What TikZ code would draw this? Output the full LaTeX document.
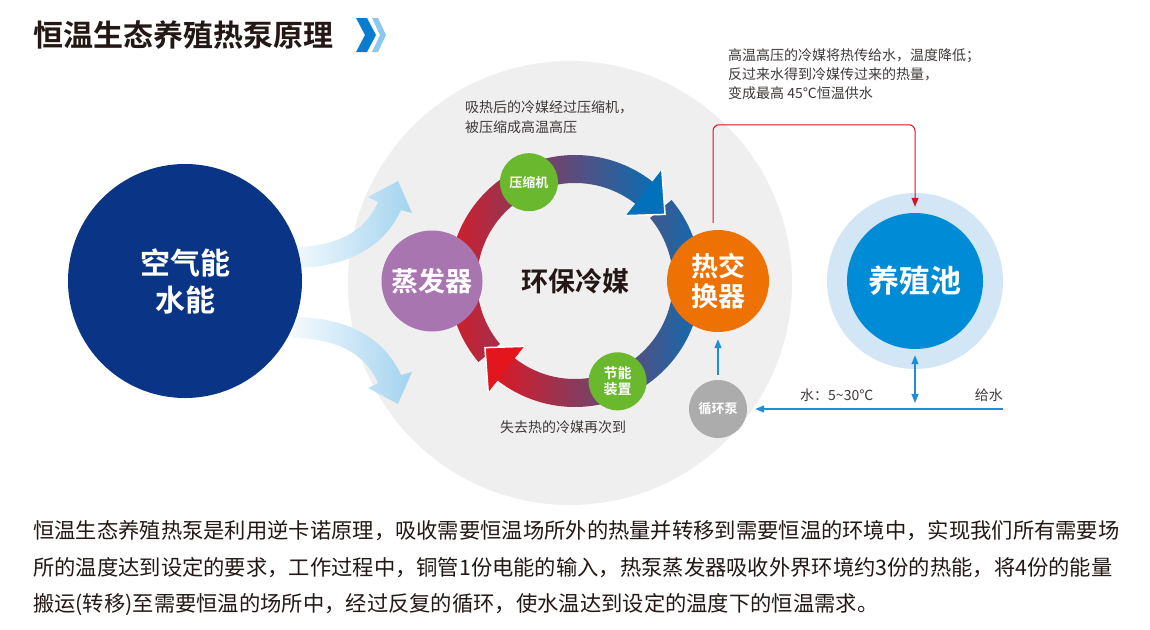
\documentclass[tikz,border=0pt]{standalone}
\usepackage{fontspec}
\setmainfont{Noto Sans CJK SC}[BoldFont={Noto Sans CJK SC Bold}]
\usetikzlibrary{arrows.meta,calc}
\definecolor{navyDeep}{HTML}{0A3587}
\definecolor{bgGrey}{HTML}{EFEFEF}
\definecolor{ringRed}{HTML}{E3161E}
\definecolor{ringMid}{HTML}{96587E}
\definecolor{ringBlue}{HTML}{0071BA}
\definecolor{evapPurple}{HTML}{A875B0}
\definecolor{hxOrange}{HTML}{EE7203}
\definecolor{leafGreen}{HTML}{6AB82E}
\definecolor{pumpGrey}{HTML}{ACACAC}
\definecolor{poolPale}{HTML}{D3E6F6}
\definecolor{poolBlue}{HTML}{008BD6}
\definecolor{skyBlue}{HTML}{A3D3EF}
\definecolor{hotRed}{HTML}{D7131E}
\definecolor{coldBlue}{HTML}{1D8FD8}
\definecolor{inkGrey}{HTML}{3E3A39}
\definecolor{titleInk}{HTML}{231815}
\definecolor{chevDark}{HTML}{0A7DD0}
\definecolor{chevPale}{HTML}{8CC8EE}

\begin{document}
\begin{tikzpicture}[
  x=1pt, y=1pt,
  >={Triangle[length=9pt, width=7pt]},
  ball/.style ={circle, inner sep=0pt, align=center, text=white,
                font=\bfseries\fontsize{27}{30}\selectfont},
  tag/.style  ={circle, inner sep=0pt, align=center, text=white, fill=leafGreen,
                minimum size=58, font=\bfseries\fontsize{13}{16}\selectfont},
  note/.style ={inner sep=0pt, align=left, text=inkGrey,
                font=\fontsize{14}{20}\selectfont},
  para/.style ={inner sep=0pt, anchor=base west, text=titleInk,
                font=\fontsize{21.3}{36}\selectfont},
  hot/.style  ={->, draw=hotRed, line width=1pt},
  cold/.style ={draw=coldBlue, line width=1.2pt},
  feed/.style ={left color=skyBlue!12, right color=skyBlue},
  band/.style ={left color=ringRed, middle color=ringMid, right color=ringBlue},
]
\useasboundingbox (0,0) rectangle (1150,-629);

% ---- the ring, stated once ---------------------------------------------------------
% outer and inner edge of the band, and the two wings of each head
\coordinate (core) at (575,-281);
\pgfmathsetmacro{\Ro}{126}
\pgfmathsetmacro{\Ri}{98}
\pgfmathsetmacro{\Rm}{112}
\pgfmathsetmacro{\Wo}{141}
\pgfmathsetmacro{\Wi}{83}

% ============================================================ TITLE
\node[anchor=west, inner sep=0pt, text=titleInk,
      font=\bfseries\fontsize{30}{36}\selectfont] (title) at (33,-35) {恒温生态养殖热泵原理};
\fill[chevDark] (356,-18) -- (367,-18) -- (376,-35) -- (367,-52) -- (356,-52) -- (365,-35) -- cycle;
\fill[chevPale] (372,-18) -- (378,-18) -- (386,-35) -- (378,-52) -- (372,-52) -- (380,-35) -- cycle;

% ============================================================ SOURCE
\fill[bgGrey] (570,-283) circle (222);

% two pale arrows from the source into the cycle; the lower one is the upper mirrored
\shade[feed] (292,-247) .. controls (345,-247) and (368,-225) .. (378,-202)
  -- (368,-197) -- (398,-181) -- (412,-213) -- (401,-210)
  .. controls (385,-245) and (350,-268) .. (292,-268) -- cycle;
\begin{scope}[yshift=-585pt, yscale=-1]
  \shade[feed] (292,-247) .. controls (345,-247) and (368,-225) .. (378,-202)
    -- (368,-197) -- (398,-181) -- (412,-213) -- (401,-210)
    .. controls (385,-245) and (350,-268) .. (292,-268) -- cycle;
\end{scope}

\node[ball, fill=navyDeep, minimum size=234, font=\bfseries\fontsize{30}{37}\selectfont]
  (src) at (185,-281) {空气能\\水能};

% ============================================================ CYCLE
% lower half first, upper half over it; each head is laid again on top so it cuts
% a white notch into the half that follows it
\shade[band]
  ($(core)+(40:\Ro)$) arc[start angle=40, end angle=-128, radius=\Ro]
  -- ($(core)+(-128:\Wo)$) -- ($(core)+(-143.5:\Rm)$) -- ($(core)+(-128:\Wi)$)
  -- ($(core)+(-128:\Ri)$) arc[start angle=-128, end angle=40, radius=\Ri] -- cycle;
\shade[band]
  ($(core)+(220:\Ro)$) arc[start angle=220, end angle=52, radius=\Ro]
  -- ($(core)+(52:\Wo)$) -- ($(core)+(36.5:\Rm)$) -- ($(core)+(52:\Wi)$)
  -- ($(core)+(52:\Ri)$) arc[start angle=52, end angle=220, radius=\Ri] -- cycle;

\fill[ringBlue] ($(core)+(52:\Wo)$) -- ($(core)+(36.5:\Rm)$) -- ($(core)+(52:\Wi)$) -- cycle;
\draw[white, line width=1.5pt] ($(core)+(52:\Wo)$) -- ($(core)+(36.5:\Rm)$) -- ($(core)+(52:\Wi)$);
\fill[ringRed] ($(core)+(-128:\Wo)$) -- ($(core)+(-143.5:\Rm)$) -- ($(core)+(-128:\Wi)$) -- cycle;
\draw[white, line width=1.5pt] ($(core)+(-128:\Wo)$) -- ($(core)+(-143.5:\Rm)$) -- ($(core)+(-128:\Wi)$);

\node[ball, fill=evapPurple, minimum size=101] (evap) at ($(core)+(180:143)$) {蒸发器};
\node[ball, fill=hxOrange, minimum size=102, font=\bfseries\fontsize{27}{30}\selectfont]
  (hx) at ($(core)+(0:143)$) {热交\\换器};
\node[tag] (comp) at ($(core)+(115:109)$) {压缩机};
\node[tag, font=\bfseries\fontsize{14}{16}\selectfont] (save) at ($(core)+(-67:109)$) {节能\\装置};
\node[inner sep=0pt, text=titleInk, font=\bfseries\fontsize{27}{30}\selectfont]
  (agent) at (core) {环保冷媒};

\node[note, anchor=west] (hotNote) at (465,-117) {吸热后的冷媒经过压缩机，\\被压缩成高温高压};
\node[note, anchor=west] (coolNote) at (500,-427) {失去热的冷媒再次到};

% ============================================================ POOL
\node[circle, fill=poolPale, minimum size=176, inner sep=0pt] (pool) at (915,-281) {};
\node[ball, fill=poolBlue, minimum size=136, font=\bfseries\fontsize{31}{34}\selectfont]
  (poolin) at (pool) {养殖池};
\node[circle, fill=pumpGrey, minimum size=58, inner sep=0pt, text=white,
      font=\bfseries\fontsize{13}{16}\selectfont] (pump) at (718,-409) {循环泵};
\coordinate (inlet) at (1003,-409);

\node[note, anchor=west, font=\fontsize{14}{19}\selectfont] (giveNote) at (728,-74)
  {高温高压的冷媒将热传给水，温度降低；\\反过来水得到冷媒传过来的热量，\\变成最高 45℃恒温供水};

\draw[hot, rounded corners=6pt, shorten <=7pt, shorten >=6pt]
  ([xshift=-5pt]hx.north) -- ++(0,105) -| (poolin.north);
\draw[cold, ->, shorten <=5pt, shorten >=7pt] (pump) -- (hx);
\draw[cold, ->, shorten >=8pt] (inlet) -- (pump);
\draw[cold, <->, shorten <=6pt, shorten >=6pt] (poolin.south) -- (poolin.south |- inlet);

\node[note, anchor=west] (tempLbl) at (800,-395) {水：5\textasciitilde30℃};
\node[note, anchor=east] (inletLbl) at (1003,-395) {给水};

% ============================================================ TEXT
\node[para] (lineA) at (33,-538)
  {恒温生态养殖热泵是利用逆卡诺原理，吸收需要恒温场所外的热量并转移到需要恒温的环境中，实现我们所有需要场};
\node[para] (lineB) at (33,-575)
  {所的温度达到设定的要求，工作过程中，铜管1份电能的输入，热泵蒸发器吸收外界环境约3份的热能，将4份的能量};
\node[para] (lineC) at (33,-611)
  {搬运(转移)至需要恒温的场所中，经过反复的循环，使水温达到设定的温度下的恒温需求。};

\end{tikzpicture}
\end{document}
